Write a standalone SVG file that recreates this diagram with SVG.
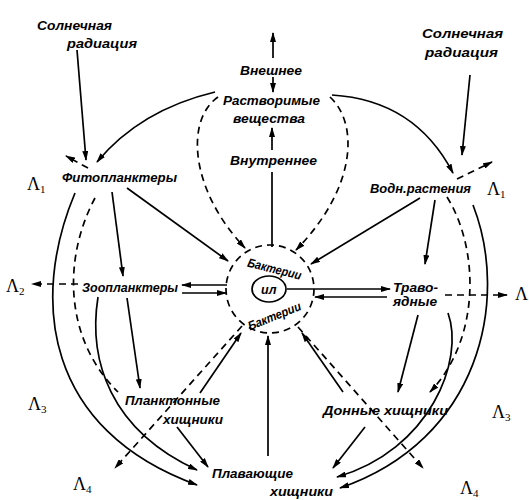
<svg xmlns="http://www.w3.org/2000/svg" width="529" height="500" viewBox="0 0 529 500">
<style>
text{font-family:"Liberation Sans",Arial,sans-serif;font-style:italic;font-weight:bold;font-size:12.5px;fill:#000;}
.lam{font-family:"Liberation Serif","Times New Roman",serif;font-style:normal;font-weight:normal;font-size:18px;}
.sub{font-size:11px;}
.s{fill:none;stroke:#000;stroke-width:1.7;}
.d{fill:none;stroke:#000;stroke-width:1.7;stroke-dasharray:7 5;}
</style>
<defs>
<marker id="ah" viewBox="0 0 10 6" refX="9" refY="3" markerWidth="10" markerHeight="6" markerUnits="userSpaceOnUse" orient="auto"><path d="M0,0 L10,3 L0,6 z" fill="#000"/></marker>
</defs>
<rect width="529" height="500" fill="#fff"/>

<g id="connectors">
<path class="s" d="M77,50 L86,160" marker-end="url(#ah)"/>
<path class="s" d="M470,75 L462,155" marker-end="url(#ah)"/>
<path class="s" d="M215,92 Q140,110 97,162" marker-end="url(#ah)"/>
<path class="s" d="M332,95 Q415,100 453,173" marker-end="url(#ah)"/>
<path class="d" d="M88,168 L66,156" marker-end="url(#ah)"/>
<path class="d" d="M457,179 L492,162" marker-end="url(#ah)"/>
<path class="s" d="M273,58 L273,33" marker-end="url(#ah)"/>
<path class="s" d="M273,77 L273,92" marker-end="url(#ah)"/>
<path class="s" d="M272,247 V172 M272,150 V128" marker-end="url(#ah)"/>
<path class="d" d="M218,97 C185,120 190,190 245,248" marker-end="url(#ah)"/>
<path class="d" d="M330,97 C360,125 355,190 296,250" marker-end="url(#ah)"/>
<path class="s" d="M75,193 C30,300 45,430 197,485" marker-end="url(#ah)"/>
<path class="s" d="M98,297 C88,360 110,430 197,470" marker-end="url(#ah)"/>
<path class="d" d="M95,198 C62,260 65,340 118,392"/>
<path class="s" d="M112,192 L123,276" marker-end="url(#ah)"/>
<path class="s" d="M127,298 L140,388" marker-end="url(#ah)"/>
<path class="s" d="M127,188 L228,261" marker-end="url(#ah)"/>
<path class="s" d="M227,285 L182,285" marker-end="url(#ah)"/>
<path class="s" d="M182,293 L226,293" marker-end="url(#ah)"/>
<path class="d" d="M78,284 L32,284" marker-end="url(#ah)"/>
<path class="s" d="M435,200 L425,264" marker-end="url(#ah)"/>
<path class="s" d="M420,198 L311,264" marker-end="url(#ah)"/>
<path class="s" d="M287,289 L390,289" marker-end="url(#ah)"/>
<path class="s" d="M387,297 L315,297" marker-end="url(#ah)"/>
<path class="d" d="M445,295 L507,295" marker-end="url(#ah)"/>
<path class="d" d="M447,197 C480,250 480,340 430,392" marker-end="url(#ah)"/>
<path class="s" d="M473,205 C510,300 480,440 340,488" marker-end="url(#ah)"/>
<path class="s" d="M448,313 C465,360 430,450 337,477" marker-end="url(#ah)"/>
<path class="s" d="M418,315 L398,392" marker-end="url(#ah)"/>
<path class="s" d="M343,392 L302,333" marker-end="url(#ah)"/>
<path class="s" d="M365,427 L333,468" marker-end="url(#ah)"/>
<path class="d" d="M298,327 L423,468" marker-end="url(#ah)"/>
<path class="d" d="M242,326 L115,468" marker-end="url(#ah)"/>
<path class="s" d="M200,393 L241,333" marker-end="url(#ah)"/>
<path class="s" d="M177,427 L208,467" marker-end="url(#ah)"/>
<path class="s" d="M268,456 L268,336" marker-end="url(#ah)"/>
</g>

<g id="sun-left"><text x="37" y="30" textLength="75" lengthAdjust="spacingAndGlyphs">Солнечная</text><text x="67" y="48" textLength="70" lengthAdjust="spacingAndGlyphs">радиация</text></g>
<g id="sun-right"><text x="422" y="38" textLength="81" lengthAdjust="spacingAndGlyphs">Солнечная</text><text x="425" y="57" textLength="73" lengthAdjust="spacingAndGlyphs">радиация</text></g>
<g id="external"><text x="240" y="75" textLength="62" lengthAdjust="spacingAndGlyphs">Внешнее</text></g>
<g id="soluble"><text x="223" y="105" textLength="97" lengthAdjust="spacingAndGlyphs">Растворимые</text><text x="233" y="123" textLength="72" lengthAdjust="spacingAndGlyphs">вещества</text></g>
<g id="internal"><text x="230" y="165" textLength="87" lengthAdjust="spacingAndGlyphs">Внутреннее</text></g>
<g id="phyto"><text x="62" y="182" textLength="115" lengthAdjust="spacingAndGlyphs">Фитопланктеры</text></g>
<g id="plants"><text x="370" y="193" textLength="101" lengthAdjust="spacingAndGlyphs">Водн.растения</text></g>
<g id="zoo"><text x="82" y="292" textLength="96" lengthAdjust="spacingAndGlyphs">Зоопланктеры</text></g>
<g id="herb"><text x="393" y="292" textLength="45" lengthAdjust="spacingAndGlyphs">Траво-</text><text x="393" y="306" textLength="44" lengthAdjust="spacingAndGlyphs">ядные</text></g>
<g id="bacteria">
<circle cx="270" cy="289" r="44" class="d"/>
<ellipse cx="269" cy="289" rx="17" ry="13" class="s"/>
<text transform="translate(273,273) rotate(14)" x="-27" y="0" textLength="55" lengthAdjust="spacingAndGlyphs">Бактерии</text>
<text x="261" y="294" font-size="11">ил</text>
<text transform="translate(276,320) rotate(-22)" x="-28" y="0" textLength="56" lengthAdjust="spacingAndGlyphs">Бактерии</text>
</g>
<g id="plankpred"><text x="125" y="405" textLength="95" lengthAdjust="spacingAndGlyphs">Планктонные</text><text x="163" y="424" textLength="60" lengthAdjust="spacingAndGlyphs">хищники</text></g>
<g id="benthpred"><text x="323" y="415" textLength="125" lengthAdjust="spacingAndGlyphs">Донные хищники</text></g>
<g id="swimpred"><text x="212" y="478" textLength="81" lengthAdjust="spacingAndGlyphs">Плавающие</text><text x="270" y="496" textLength="63" lengthAdjust="spacingAndGlyphs" font-size="11.5">хищники</text></g>
<g id="lambdas">
<text class="lam" x="27" y="190">Λ<tspan class="sub" dy="3">1</tspan></text>
<text class="lam" x="487" y="195">Λ<tspan class="sub" dy="3">1</tspan></text>
<text class="lam" x="6" y="292">Λ<tspan class="sub" dy="3">2</tspan></text>
<text class="lam" x="515" y="300">Λ</text>
<text class="lam" x="28" y="410">Λ<tspan class="sub" dy="3">3</tspan></text>
<text class="lam" x="492" y="418">Λ<tspan class="sub" dy="3">3</tspan></text>
<text class="lam" x="73" y="490">Λ<tspan class="sub" dy="3">4</tspan></text>
<text class="lam" x="460" y="494">Λ<tspan class="sub" dy="3">4</tspan></text>
</g>
</svg>
